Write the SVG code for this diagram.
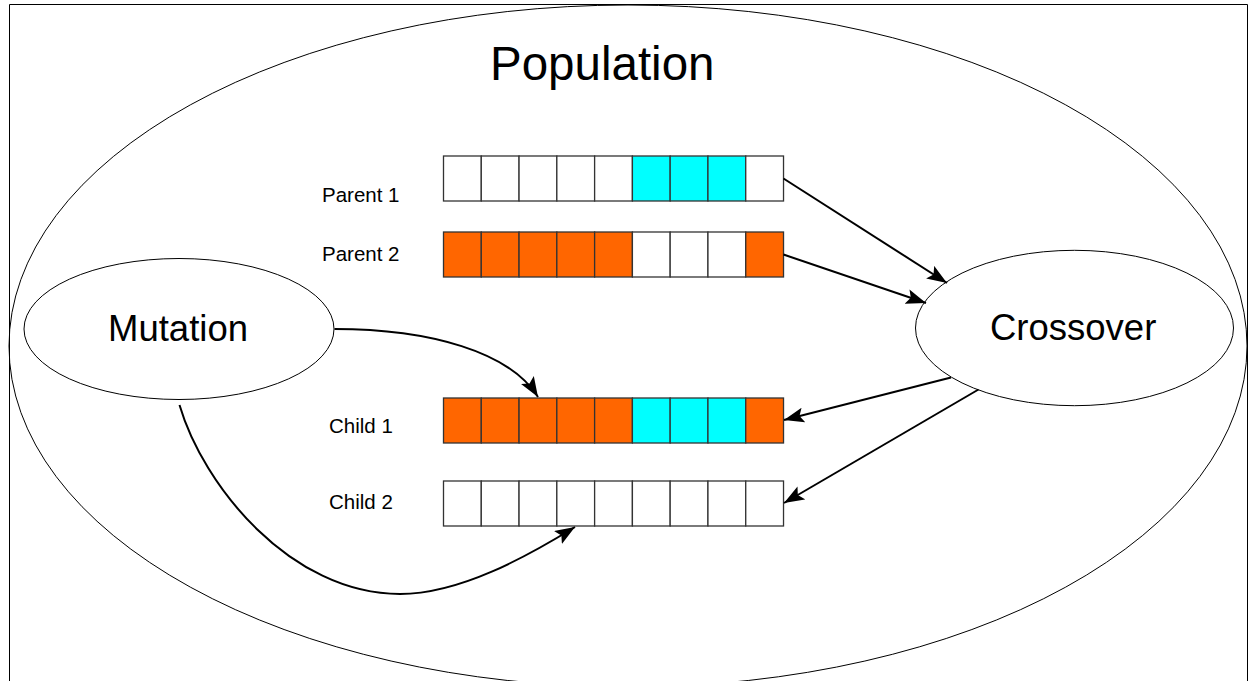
<svg xmlns="http://www.w3.org/2000/svg" width="1248" height="681" viewBox="0 0 1248 681">
<style>
  .lbl { font-family: "Liberation Sans", Arial, sans-serif; fill: #000; }
  .ell { fill: none; stroke: #000; stroke-width: 1; }
  .cell { stroke: #333; stroke-width: 1.3; }
  .w { fill: #fff; }
  .c { fill: #00ffff; }
  .o { fill: #ff6600; }
  .con { fill: none; stroke: #000; stroke-width: 2; }
</style>
<defs>
  <marker id="arr" markerUnits="userSpaceOnUse" markerWidth="22" markerHeight="16" refX="20" refY="7.5" orient="auto">
    <path d="M0,0 L20,7.5 L0,15 L4,7.5 z" fill="#000"/>
  </marker>
</defs>
<rect x="0" y="0" width="1248" height="681" fill="#fff"/>
<path d="M9.5,681 V4.5 H1247.5 V681" fill="none" stroke="#000" stroke-width="1"/>

<g id="population">
  <ellipse class="ell" cx="628" cy="346" rx="619" ry="341"/>
  <text class="lbl" x="490" y="80" font-size="47.5">Population</text>
</g>

<g id="mutation">
  <ellipse class="ell" cx="179" cy="329" rx="155" ry="70.5"/>
  <text class="lbl" x="108" y="341" font-size="36.5">Mutation</text>
</g>

<g id="crossover">
  <ellipse class="ell" cx="1074.5" cy="328" rx="159" ry="77.7"/>
  <text class="lbl" x="990" y="340" font-size="36.5">Crossover</text>
</g>

<g id="parent1">
  <text class="lbl" x="322" y="202" font-size="20.5">Parent 1</text>
  <rect class="cell w" x="443.5" y="156" width="37.78" height="45"/>
  <rect class="cell w" x="481.28" y="156" width="37.78" height="45"/>
  <rect class="cell w" x="519.06" y="156" width="37.78" height="45"/>
  <rect class="cell w" x="556.84" y="156" width="37.78" height="45"/>
  <rect class="cell w" x="594.62" y="156" width="37.78" height="45"/>
  <rect class="cell c" x="632.4" y="156" width="37.78" height="45"/>
  <rect class="cell c" x="670.18" y="156" width="37.78" height="45"/>
  <rect class="cell c" x="707.96" y="156" width="37.78" height="45"/>
  <rect class="cell w" x="745.74" y="156" width="37.78" height="45"/>
</g>

<g id="parent2">
  <text class="lbl" x="322" y="260.5" font-size="20.5">Parent 2</text>
  <rect class="cell o" x="443.5" y="232" width="37.78" height="45"/>
  <rect class="cell o" x="481.28" y="232" width="37.78" height="45"/>
  <rect class="cell o" x="519.06" y="232" width="37.78" height="45"/>
  <rect class="cell o" x="556.84" y="232" width="37.78" height="45"/>
  <rect class="cell o" x="594.62" y="232" width="37.78" height="45"/>
  <rect class="cell w" x="632.4" y="232" width="37.78" height="45"/>
  <rect class="cell w" x="670.18" y="232" width="37.78" height="45"/>
  <rect class="cell w" x="707.96" y="232" width="37.78" height="45"/>
  <rect class="cell o" x="745.74" y="232" width="37.78" height="45"/>
</g>

<g id="child1">
  <text class="lbl" x="329" y="433.3" font-size="20.5">Child 1</text>
  <rect class="cell o" x="443.5" y="398" width="37.78" height="45"/>
  <rect class="cell o" x="481.28" y="398" width="37.78" height="45"/>
  <rect class="cell o" x="519.06" y="398" width="37.78" height="45"/>
  <rect class="cell o" x="556.84" y="398" width="37.78" height="45"/>
  <rect class="cell o" x="594.62" y="398" width="37.78" height="45"/>
  <rect class="cell c" x="632.4" y="398" width="37.78" height="45"/>
  <rect class="cell c" x="670.18" y="398" width="37.78" height="45"/>
  <rect class="cell c" x="707.96" y="398" width="37.78" height="45"/>
  <rect class="cell o" x="745.74" y="398" width="37.78" height="45"/>
</g>

<g id="child2">
  <text class="lbl" x="329" y="509.3" font-size="20.5">Child 2</text>
  <rect class="cell w" x="443.5" y="481" width="37.78" height="45"/>
  <rect class="cell w" x="481.28" y="481" width="37.78" height="45"/>
  <rect class="cell w" x="519.06" y="481" width="37.78" height="45"/>
  <rect class="cell w" x="556.84" y="481" width="37.78" height="45"/>
  <rect class="cell w" x="594.62" y="481" width="37.78" height="45"/>
  <rect class="cell w" x="632.4" y="481" width="37.78" height="45"/>
  <rect class="cell w" x="670.18" y="481" width="37.78" height="45"/>
  <rect class="cell w" x="707.96" y="481" width="37.78" height="45"/>
  <rect class="cell w" x="745.74" y="481" width="37.78" height="45"/>
</g>

<g id="connectors">
  <line class="con" x1="783.5" y1="178.5" x2="947" y2="283" marker-end="url(#arr)"/>
  <line class="con" x1="783.5" y1="254.5" x2="926" y2="303" marker-end="url(#arr)"/>
  <line class="con" x1="951" y1="377.5" x2="784" y2="420" marker-end="url(#arr)"/>
  <line class="con" x1="978.5" y1="389.5" x2="784" y2="503" marker-end="url(#arr)"/>
  <path class="con" d="M334.5,329 C430,329 510,352 538,397" marker-end="url(#arr)"/>
  <path class="con" d="M179.5,405 C203,485 290,594 400,594 C460,594 528,556 575,527" marker-end="url(#arr)"/>
</g>
</svg>
